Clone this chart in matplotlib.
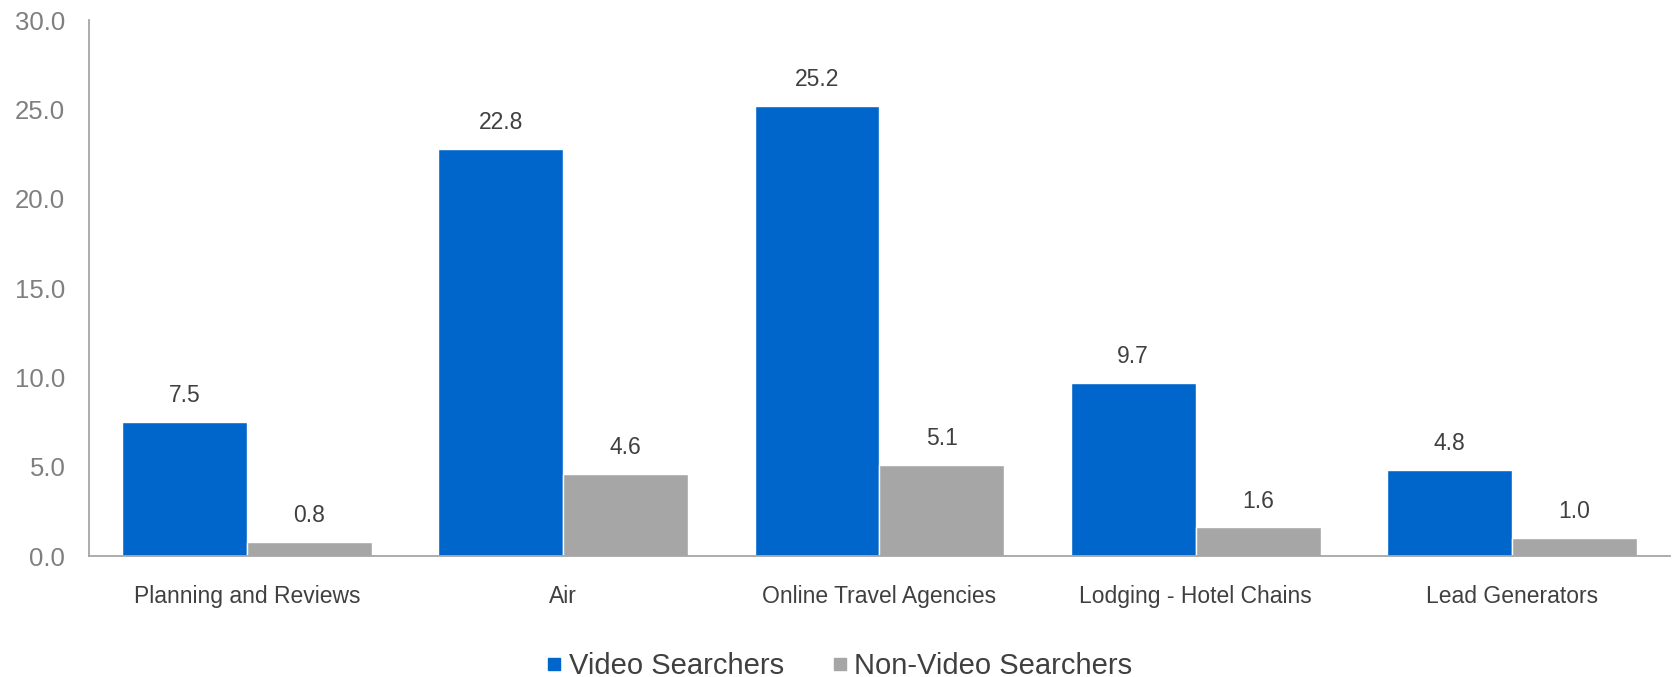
import matplotlib.pyplot as plt
import numpy as np
from matplotlib.lines import Line2D

plt.rcParams['font.family'] = ['Liberation Sans', 'DejaVu Sans']

categories = ['Planning and Reviews', 'Air', 'Online Travel Agencies',
              'Lodging - Hotel Chains', 'Lead Generators']
video = [7.5, 22.8, 25.2, 9.7, 4.8]
non_video = [0.8, 4.6, 5.1, 1.6, 1.0]
series_names = ['Video Searchers', 'Non-Video Searchers']

blue = '#0066CC'
gray = '#A6A6A6'
text_dark = '#404040'

fig = plt.figure(figsize=(16.75, 6.77), dpi=100)
ax = fig.add_axes([0.0531, 0.1787, 0.9439, 0.7917])

x = np.arange(len(categories))
w = 0.395
b1 = ax.bar(x - w / 2, video, w, color=blue, edgecolor='white', linewidth=1)
b2 = ax.bar(x + w / 2, non_video, w, color=gray, edgecolor='white', linewidth=1)

# value labels above each bar
for bars, vals in ((b1, video), (b2, non_video)):
    for rect, v in zip(bars, vals):
        ax.annotate(f'{v:.1f}', (rect.get_x() + rect.get_width() / 2, v),
                    xytext=(0, 19), textcoords='offset points',
                    ha='center', va='center', fontsize=16.5, color=text_dark)

ax.set_xlim(-0.5, len(categories) - 0.5)
ax.set_ylim(0, 30)
ax.set_yticks(np.arange(0, 30.1, 5))
ax.set_yticklabels([f'{t:.1f}' for t in np.arange(0, 30.1, 5)])
ax.set_xticks(x)
ax.set_xticklabels(categories)

ax.spines['right'].set_color('none')
ax.spines['top'].set_color('none')
for s in ('left', 'bottom'):
    ax.spines[s].set_color('#A6A6A6')
    ax.spines[s].set_linewidth(1.3)

ax.tick_params(axis='y', length=0, pad=17, labelsize=18.5, labelcolor='#7F7F7F')
ax.tick_params(axis='x', length=0, pad=21, labelsize=16.5, labelcolor=text_dark)

handles = [Line2D([], [], marker='s', linestyle='none', markersize=9, color=c)
           for c in (blue, gray)]
fig.legend(handles, series_names, loc='center', bbox_to_anchor=(0.5, 0.016),
           ncol=2, frameon=False, fontsize=21, labelcolor=text_dark,
           handletextpad=0.1, columnspacing=1.5, handlelength=0.8)

fig.savefig('out.png', dpi=100)
